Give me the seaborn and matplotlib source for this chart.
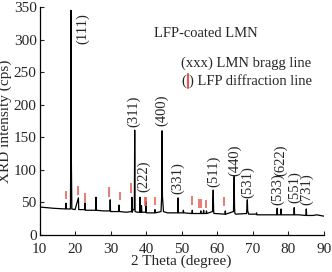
"""XRD pattern of LFP-coated LMN with LMN bragg lines and LFP diffraction marks."""

import matplotlib

matplotlib.use("Agg")
import matplotlib.pyplot as plt
import pandas as pd
import seaborn as sns

two_theta = [
    10.0, 14.0, 17.3, 17.45, 17.6, 18.7, 18.8, 18.88, 18.96, 19.1,
    20.0, 20.95, 21.05, 21.15, 22.7, 22.8, 22.9, 24.0, 25.8, 25.9,
    26.0, 28.0, 29.8, 29.9, 30.0, 32.3, 32.4, 32.5, 34.5, 35.9,
    36.0, 36.1, 36.25, 36.7, 36.8, 36.9, 37.5, 38.2, 38.3, 38.4,
    38.6, 38.7, 38.8, 39.9, 40.0, 40.1, 41.0, 42.4, 42.5, 42.6,
    44.2, 44.4, 44.5, 44.6, 44.9, 46.0, 48.9, 49.0, 49.1, 50.4,
    50.5, 50.6, 52.9, 53.0, 53.1, 55.3, 55.4, 55.5, 56.1, 56.2,
    56.3, 56.9, 57.0, 57.1, 58.7, 58.9, 59.0, 59.1, 59.4, 62.2,
    62.3, 62.4, 64.6, 64.8, 64.9, 65.0, 65.3, 68.3, 68.5, 68.6,
    68.9, 71.0, 71.1, 71.2, 74.0, 76.8, 76.9, 77.0, 77.9, 78.0,
    78.1, 79.0, 81.6, 81.7, 81.8, 83.0, 85.0, 85.1, 85.2, 87.0,
    88.0, 90.0,
]
intensity = [
    43, 41, 40, 49, 40, 40, 120, 345, 118, 40,
    39, 57, 39, 39, 39, 49, 38, 38, 38, 58,
    38, 37, 37, 54, 36, 36, 46, 36, 35, 36,
    58, 35, 38, 40, 161, 36, 35, 35, 58, 35,
    35, 45, 35, 35, 51, 34, 34, 34, 39, 34,
    36, 60, 160, 60, 36, 34, 34, 57, 34, 34,
    38, 34, 33, 38, 33, 33, 37, 33, 33, 38,
    33, 33, 37, 33, 36, 69, 40, 33, 33, 32,
    37, 32, 36, 90, 42, 33, 32, 33, 54, 37,
    32, 32, 34, 31, 31, 31, 41, 31, 31, 40,
    31, 31, 31, 42, 31, 31, 30, 40, 30, 30,
    31, 29,
]

# LMN bragg reflections: label, text position (degree, cps)
lmn_labels = ["(111)", "(311)", "(400)", "(222)", "(331)", "(511)",
              "(440)", "(531)", "(533)", "(622)", "(551)", "(731)"]
lmn_label_x = [22.0, 36.6, 44.5, 39.4, 49.0, 58.9, 64.8, 68.5, 76.9, 78.0, 81.7, 85.1]
lmn_label_y = [317, 190, 192, 90, 87, 98, 115, 81, 70, 115, 74, 70]

# LFP diffraction line marks: position, lower and upper end (cps)
lfp_pos = [17.5, 20.9, 22.9, 29.7, 32.6, 35.8, 39.6, 39.9, 42.5,
           52.9, 55.0, 55.6, 57.0, 62.0]
lfp_low = [55, 61, 49, 58, 53, 64, 44, 44, 46, 46, 41, 41, 41, 44]
lfp_high = [67, 75, 64, 74, 66, 80, 58, 58, 58, 60, 55, 55, 54, 58]

x_ticks = [10, 20, 30, 40, 50, 60, 70, 80, 90]
y_ticks = [0, 50, 100, 150, 200, 250, 300, 350]

RED = "#e2584c"

sns.set_style("ticks")
plt.rcParams["font.family"] = ["Liberation Serif", "DejaVu Serif"]
plt.rcParams["font.size"] = 11

trace = pd.DataFrame({"two_theta": two_theta, "intensity": intensity})

fig = plt.figure(figsize=(3.32, 2.72), dpi=100)
ax = fig.add_axes([0.119, 0.136, 0.856, 0.838])
sns.lineplot(data=trace, x="two_theta", y="intensity", ax=ax,
             color="black", linewidth=0.9, sort=False)

ax.vlines(lfp_pos, lfp_low, lfp_high, color=RED, linewidth=1.1)

for label, lx, ly in zip(lmn_labels, lmn_label_x, lmn_label_y):
    ax.text(lx, ly, label, rotation=90, ha="center", va="center", fontsize=10.5)

ax.text(0.403, 0.886, "LFP-coated LMN", transform=ax.transAxes,
        ha="left", va="center", fontsize=10.5)
ax.text(0.498, 0.754, "(xxx) LMN bragg line", transform=ax.transAxes,
        ha="left", va="center", fontsize=10.5)
ax.text(0.498, 0.675, "(", transform=ax.transAxes, ha="left", va="center", fontsize=10.5)
ax.plot([0.522, 0.522], [0.645, 0.705], transform=ax.transAxes, color=RED, linewidth=1.5)
ax.text(0.527, 0.675, ") LFP diffraction line", transform=ax.transAxes,
        ha="left", va="center", fontsize=10.5)

ax.set_xlim(10, 90)
ax.set_ylim(0, 350)
ax.set_xticks(x_ticks)
ax.set_yticks(y_ticks)
ax.tick_params(direction="in", length=3, width=0.8, labelsize=11)
ax.tick_params(axis="x", pad=5.5)
ax.tick_params(axis="y", pad=2)
ax.set_xlabel("2 Theta (degree)", fontsize=11, labelpad=-1)
ax.set_ylabel("XRD intensity (cps)", fontsize=11, labelpad=1)
for side in ["top", "right"]:
    ax.spines[side].set_visible(False)
for side in ["left", "bottom"]:
    ax.spines[side].set_linewidth(0.9)
    ax.spines[side].set_color("black")

fig.savefig("out.png", dpi=100)
plt.close(fig)
